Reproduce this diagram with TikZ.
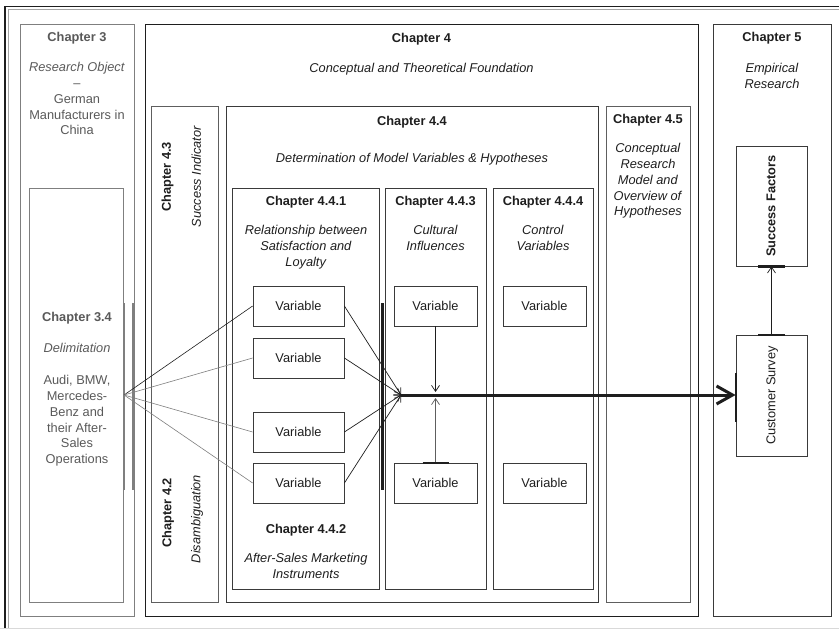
\documentclass[tikz,border=0pt]{standalone}
\usepackage{fontspec}
\setmainfont{Liberation Sans}
\usetikzlibrary{arrows.meta,fit}
\definecolor{ink}{HTML}{1E1E1E}
\definecolor{greytext}{HTML}{595959}
\definecolor{greyline}{HTML}{7F7F7F}
\definecolor{midline}{HTML}{5E5E5E}
\definecolor{darkline}{HTML}{3A3A3A}
\begin{document}
\begin{tikzpicture}[x=1pt,y=-1pt,
  every node/.style={font=\fontsize{12.8}{15.75}\selectfont, text=ink},
  chapbox/.style={draw=#1, line width=0.9pt, inner sep=0pt},
  blurb/.style={align=center, inner sep=0pt, anchor=north},
  rot/.style={rotate=90, inner sep=0pt, text height=9.3pt, text depth=2.7pt},
  varbox/.style={draw=darkline, line width=0.8pt, minimum height=40pt, inner sep=0pt},
  feed/.style={line width=0.7pt, draw=ink, -{Straight Barb[length=6pt,width=8pt]}},
  fan/.style={line width=0.6pt},
  bar/.style={line width=2.2pt},
  mainflow/.style={line width=3pt, draw=ink, -{Straight Barb[length=16pt,width=18pt]}}
]
\useasboundingbox (0,0) rectangle (839,629);

% page frame
\draw[line width=1.4pt, ink] (5,629) -- (5,6.5) -- (839,6.5);
\draw[line width=0.8pt, greyline!70] (8.2,629) -- (8.2,9.5) -- (839,9.5);
\draw[line width=1pt, black!15] (0,628) -- (839,628);

% chapter containers
\node[chapbox=greyline, fit={(20,24)(134,616)}] (ch3) {};
\node[chapbox=greyline, fit={(29,188)(123,602)}] (ch34) {};
\node[chapbox=ink, fit={(145,24)(698,616)}] (ch4) {};
\node[chapbox=midline, fit={(151,106)(218,602)}] (ch43) {};
\node[chapbox=darkline, fit={(226,106)(598,602)}] (ch44) {};
\node[chapbox=darkline, line width=1pt, fit={(232,188)(379,589)}] (ch441) {};
\node[chapbox=darkline, line width=1pt, fit={(385,188)(486,589)}] (ch443) {};
\node[chapbox=darkline, line width=1pt, fit={(493,188)(593,589)}] (ch444) {};
\node[chapbox=midline, fit={(606,106)(690,602)}] (ch45) {};
\node[chapbox=darkline, fit={(713,24)(831,616)}] (ch5) {};

% emphasised edges
\draw[bar, greyline] (124,303) -- (124,490);
\draw[bar, greyline] (133,303) -- (133,490);
\draw[line width=2.6pt, ink] (382.5,303) -- (382.5,490);

% headings and descriptions
\node[blurb, text=greytext] (t3) at (77,32.4) {\textbf{Chapter 3}\\[14.25pt]\textit{Research Object}\\–\\German\\Manufacturers in\\China};
\node[blurb, text=greytext] (t34) at (77,312.4) {\textbf{Chapter 3.4}\\[15.25pt]\textit{Delimitation}\\[16.25pt]Audi, BMW,\\Mercedes-\\Benz and\\their After-\\Sales\\Operations};
\node[blurb] (t4) at (421.5,33.4) {\textbf{Chapter 4}\\[14.25pt]\textit{Conceptual and Theoretical Foundation}};
\node[blurb] (t44) at (412,116) {\textbf{Chapter 4.4}\\[21.75pt]\textit{Determination of Model Variables \& Hypotheses}};
\node[blurb] (t441) at (306,196.5) {\textbf{Chapter 4.4.1}\\[13.25pt]\textit{Relationship between}\\\textit{Satisfaction and}\\\textit{Loyalty}};
\node[blurb] (t443) at (435.5,196.5) {\textbf{Chapter 4.4.3}\\[13.25pt]\textit{Cultural}\\\textit{Influences}};
\node[blurb] (t444) at (543,196.5) {\textbf{Chapter 4.4.4}\\[13.25pt]\textit{Control}\\\textit{Variables}};
\node[blurb] (t442) at (306,524.5) {\textbf{Chapter 4.4.2}\\[13.25pt]\textit{After-Sales Marketing}\\\textit{Instruments}};
\node[blurb] (t45) at (648,114.5) {\textbf{Chapter 4.5}\\[13.25pt]\textit{Conceptual}\\\textit{Research}\\\textit{Model and}\\\textit{Overview of}\\\textit{Hypotheses}};
\node[blurb] (t5) at (772,32.4) {\textbf{Chapter 5}\\[15.25pt]\textit{Empirical}\\\textit{Research}};

% vertical headings
\node[rot] (t43) at (167.5,177) {\textbf{Chapter 4.3}};
\node[rot] (s43) at (197.5,176.5) {\textit{Success Indicator}};
\node[rot] (t42) at (168,513) {\textbf{Chapter 4.2}};
\node[rot] (s42) at (197,519) {\textit{Disambiguation}};

% variables
\node[varbox, minimum width=91pt] (v1) at (298.5,306) {Variable};
\node[varbox, minimum width=91pt] (v2) at (298.5,358) {Variable};
\node[varbox, minimum width=91pt] (v3) at (298.5,432) {Variable};
\node[varbox, minimum width=91pt] (v4) at (298.5,483) {Variable};
\node[varbox, minimum width=83pt] (c1) at (435.5,306) {Variable};
\node[varbox, minimum width=83pt] (c2) at (435.5,483) {Variable};
\node[varbox, minimum width=83pt] (k1) at (544.5,306) {Variable};
\node[varbox, minimum width=83pt] (k2) at (544.5,483) {Variable};

% empirical part
\node[varbox, minimum width=71pt, minimum height=120pt] (sf) at (771.5,206) {};
\node[rot] (sft) at (772,206) {\textbf{Success Factors}};
\node[varbox, minimum width=71pt, minimum height=121pt] (cs) at (771.5,395.5) {};
\node[rot] (cst) at (772,395.5) {Customer Survey};

% connection points
\coordinate (fan) at (124,395);
\coordinate (hub) at (401,395);
\coordinate (hubtop) at (435.5,392);
\coordinate (hubbot) at (435.5,398);

% delimitation fans out to the variables
\draw[fan, ink] (fan) -- (v1.west);
\draw[fan, greyline] (fan) -- (v2.west);
\draw[fan, greyline] (fan) -- (v3.west);
\draw[fan, greyline] (fan) -- (v4.west);

% variables feed the model
\draw[feed] (v1.east) -- (hub);
\draw[feed] (v2.east) -- (hub);
\draw[feed] (v3.east) -- (hub);
\draw[feed] (v4.east) -- (hub);
\draw[feed] (c1.south) -- (hubtop);
\draw[feed, draw=midline] (c2.north) -- (hubbot);
\draw[bar, ink] ([xshift=-13pt]c2.north) -- ([xshift=13pt]c2.north);

% model to survey to success factors
\draw[mainflow] (hub) -- (hub -| cs.west);
\draw[line width=2.6pt, ink] (736,373) -- (736,422);
\draw[bar, ink] ([xshift=-13.5pt]cs.north) -- ([xshift=13.5pt]cs.north);
\draw[bar, ink] ([xshift=-13.5pt]sf.south) -- ([xshift=13.5pt]sf.south);
\draw[feed] (cs.north) -- (sf.south);
\end{tikzpicture}
\end{document}
